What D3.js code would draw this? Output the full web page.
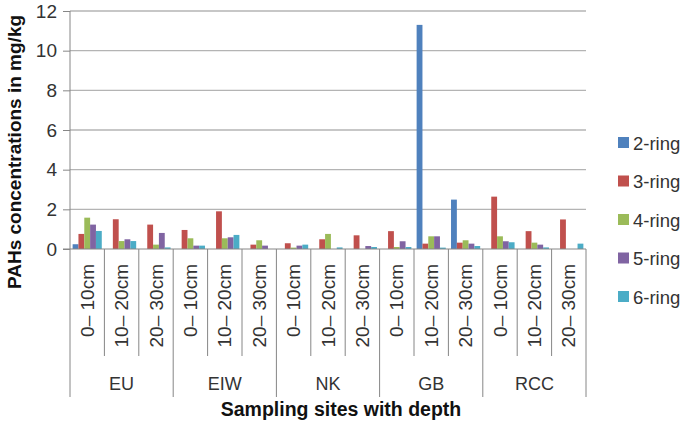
<!DOCTYPE html>
<html>
<head>
<meta charset="utf-8">
<script src="https://cdn.jsdelivr.net/npm/d3@7"></script>
<style>
  body { margin: 0; background: #fff; }
  svg { font-family: "Liberation Sans", Arial, sans-serif; }
</style>
</head>
<body>
<div id="chart"></div>
<script>
const sites = ["EU", "EIW", "NK", "GB", "RCC"]
const depths = ["0\u2013 10cm", "10\u2013 20cm", "20\u2013 30cm"]
const series = ["2-ring", "3-ring", "4-ring", "5-ring", "6-ring"]
// one row per site/depth, in series order
const values = [
  [0.24, 0.76, 1.58, 1.23, 0.91],
  [0, 1.5, 0.4, 0.49, 0.4],
  [0, 1.23, 0.22, 0.81, 0.08],
  [0, 0.96, 0.54, 0.17, 0.17],
  [0, 1.9, 0.54, 0.59, 0.71],
  [0, 0.22, 0.44, 0.17, 0],
  [0, 0.29, 0.07, 0.17, 0.22],
  [0, 0.49, 0.76, 0, 0.08],
  [0, 0.69, 0, 0.15, 0.1],
  [0, 0.9, 0.1, 0.39, 0.1],
  [11.3, 0.27, 0.64, 0.64, 0.07],
  [2.49, 0.32, 0.44, 0.27, 0.15],
  [0, 2.64, 0.64, 0.39, 0.34],
  [0, 0.9, 0.32, 0.22, 0.08],
  [0, 1.49, 0, 0, 0.27]
]
const yTicks = [0, 2, 4, 6, 8, 10, 12]
const colors = ["#4F81BD", "#C0504D", "#9BBB59", "#8064A2", "#4BACC6"]

const width = 685, height = 429
const plot = { left: 70, right: 586, top: 11, bottom: 249 }

const cats = sites.flatMap(s => depths.map(d => s + "|" + d))

const svg = d3.select("#chart").append("svg").attr("width", width).attr("height", height)

const x = d3.scaleBand().domain(cats).range([plot.left, plot.right]).paddingInner(0).paddingOuter(0)
const xs = d3.scaleBand().domain(series).range([0, x.bandwidth()]).paddingInner(0).paddingOuter(0.45)
const y = d3.scaleLinear().domain([0, 12]).range([plot.bottom, plot.top])

// gridlines
svg.append("g").selectAll("line").data(yTicks.filter(d => d > 0)).join("line")
  .attr("x1", plot.left).attr("x2", plot.right)
  .attr("y1", d => y(d)).attr("y2", d => y(d))
  .attr("stroke", "#b4b4b4").attr("stroke-width", 1.3)

// y axis
const yAxis = svg.append("g").attr("transform", `translate(${plot.left},0)`)
  .call(d3.axisLeft(y).tickValues(yTicks).tickSize(7).tickPadding(6))
yAxis.select(".domain").remove()
yAxis.selectAll(".tick line").attr("stroke", "#868686")
yAxis.selectAll(".tick text").attr("font-size", 19).attr("fill", "#333").attr("font-family", "Liberation Sans, Arial, sans-serif")
svg.append("line").attr("x1", plot.left).attr("x2", plot.left).attr("y1", plot.top).attr("y2", plot.bottom)
  .attr("stroke", "#868686")

// bars
const rows = cats.map((c, i) => ({ cat: c, vals: values[i] }))
const grp = svg.append("g").selectAll("g").data(rows).join("g")
  .attr("transform", d => `translate(${x(d.cat)},0)`)
grp.selectAll("rect").data(d => d.vals.map((v, j) => ({ s: series[j], v, j }))).join("rect")
  .attr("x", d => xs(d.s))
  .attr("width", xs.bandwidth())
  .attr("y", d => y(d.v))
  .attr("height", d => y(0) - y(d.v))
  .attr("fill", d => colors[d.j])

// category axis
svg.append("line").attr("x1", plot.left - 7).attr("x2", plot.right).attr("y1", plot.bottom).attr("y2", plot.bottom)
  .attr("stroke", "#868686")
const catAxis = svg.append("g")
cats.forEach((c, i) => {
  const x0 = x(c)
  const long = i % 3 === 0
  catAxis.append("line").attr("x1", x0).attr("x2", x0).attr("y1", plot.bottom)
    .attr("y2", long ? 397 : 356).attr("stroke", "#868686")
})
catAxis.append("line").attr("x1", plot.right).attr("x2", plot.right).attr("y1", plot.bottom).attr("y2", 397)
  .attr("stroke", "#868686")
catAxis.selectAll("text.depth").data(cats).join("text")
  .attr("class", "depth")
  .attr("transform", d => `translate(${x(d) + x.bandwidth() / 2},264) rotate(-90)`)
  .attr("text-anchor", "end").attr("dominant-baseline", "central")
  .attr("font-size", 19).attr("fill", "#333")
  .text(d => d.split("|")[1])
catAxis.selectAll("text.site").data(sites).join("text")
  .attr("class", "site")
  .attr("x", s => x(s + "|" + depths[1]) + x.bandwidth() / 2)
  .attr("y", 384).attr("text-anchor", "middle").attr("dominant-baseline", "central")
  .attr("font-size", 18).attr("fill", "#333")
  .text(s => s)

// axis titles
svg.append("text").attr("x", 341).attr("y", 416).attr("text-anchor", "middle")
  .attr("font-size", 19.5).attr("font-weight", "bold").attr("fill", "#111")
  .text("Sampling sites with depth")
svg.append("text").attr("transform", "translate(14,152) rotate(-90)")
  .attr("text-anchor", "middle").attr("dominant-baseline", "central")
  .attr("font-size", 19).attr("font-weight", "bold").attr("fill", "#111")
  .text("PAHs concentrations in mg/kg")

// legend
const legend = svg.append("g").attr("transform", "translate(618,143)")
series.forEach((s, i) => {
  const yo = i * 38.5
  legend.append("rect").attr("x", 0).attr("y", yo - 6).attr("width", 11).attr("height", 11).attr("fill", colors[i])
  legend.append("text").attr("x", 15).attr("y", yo).attr("dominant-baseline", "central")
    .attr("font-size", 18.5).attr("fill", "#333").text(s)
})
</script>
</body>
</html>
